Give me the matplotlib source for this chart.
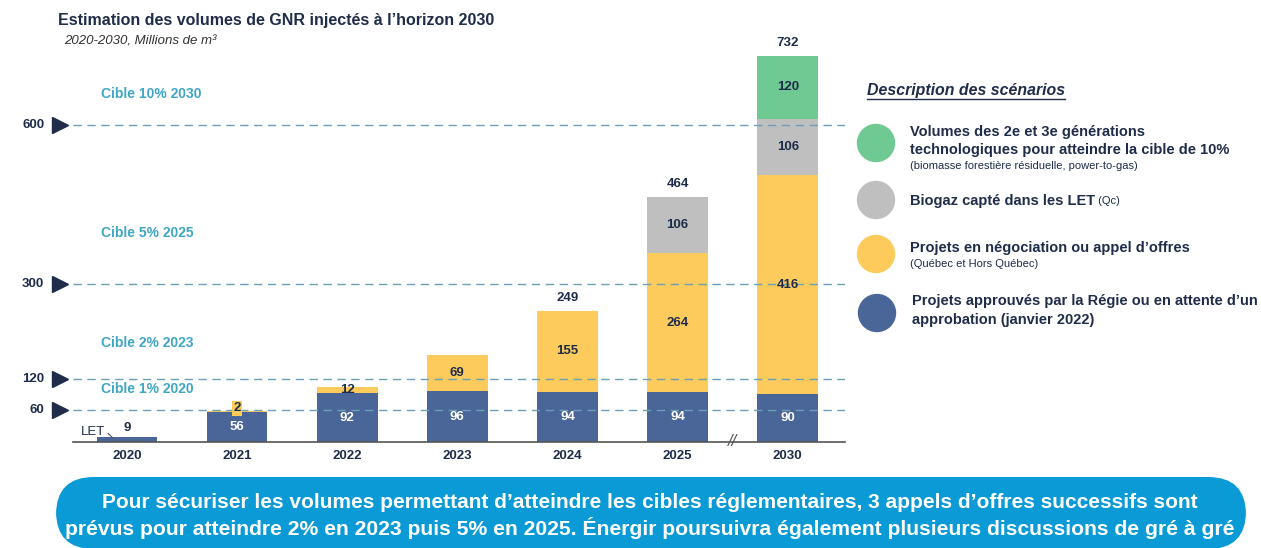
import matplotlib.pyplot as plt
import matplotlib
from matplotlib.patches import FancyBboxPatch, Ellipse
import numpy as np

matplotlib.rcParams['font.family'] = ['Liberation Sans', 'DejaVu Sans']

# données (millions de m³)
years = ['2020', '2021', '2022', '2023', '2024', '2025', '2030']
approuves = [9, 56, 92, 96, 94, 94, 90]
negociation = [0, 2, 12, 69, 155, 264, 416]
biogaz_let = [0, 0, 0, 0, 0, 106, 106]
generations = [0, 0, 0, 0, 0, 0, 120]
show_total = [False, False, False, False, True, True, True]

cibles = [600, 300, 120, 60]
cible_labels = [('Cible 10% 2030', 660), ('Cible 5% 2025', 395),
                ('Cible 2% 2023', 188), ('Cible 1% 2020', 100)]

NAVY = '#1f2d4a'
BLUE = '#4a6699'
YELLOW = '#fccb5c'
GREY = '#bfbfbf'
GREEN = '#6fc993'
TEAL = '#3fa6c6'
DASH = '#6a9fb5'

W, H = 1261, 548
fig = plt.figure(figsize=(W / 100, H / 100), dpi=100)


def px(x, y):
    return x / W, 1 - y / H


ax = fig.add_axes([73 / W, (548 - 442) / H, (845 - 73) / W, 780 * 0.528 / H])
x = np.arange(len(years))
ax.set_xlim(-0.49, 6.52)
ax.set_ylim(0, 780)

a = np.array(approuves)
n = np.array(negociation)
b = np.array(biogaz_let)
g = np.array(generations)

ax.bar(x, a, width=0.55, color=BLUE, zorder=2)
ax.bar(x, n, width=0.55, bottom=a, color=YELLOW, zorder=2)
ax.bar(x, b, width=0.55, bottom=a + n, color=GREY, zorder=2)
ax.bar(x, g, width=0.55, bottom=a + n + b, color=GREEN, zorder=2)

# lignes de cibles
for c in cibles:
    ax.axhline(c, color=DASH, lw=1, ls=(0, (6, 4)), zorder=3)
    ax.plot(-0.61, c, marker='>', color=NAVY, markersize=11, clip_on=False)
    ax.text(-0.75, c, str(c), ha='right', va='center', fontsize=9.5,
            color=NAVY, fontweight='bold')
for txt, yv in cible_labels:
    ax.text(-0.24, yv, txt, ha='left', va='center', fontsize=10,
            color=TEAL, fontweight='bold')

# étiquettes de valeurs
fs_val = 9.5
for i in range(len(years)):
    if a[i] >= 30:
        ax.text(x[i], a[i] / 2, str(a[i]), ha='center', va='center',
                fontsize=fs_val, color='white', fontweight='bold', zorder=4)
    else:
        ax.text(x[i], a[i] + 18, str(a[i]), ha='center', va='center',
                fontsize=fs_val, color=NAVY, fontweight='bold', zorder=4)
    if n[i] > 0:
        if n[i] < 10:
            ax.text(x[i], a[i] + n[i] + 6, str(n[i]), ha='center', va='center',
                    fontsize=fs_val, color=NAVY, fontweight='bold', zorder=4,
                    bbox=dict(boxstyle='square,pad=0.1', fc=YELLOW, ec='none'))
        else:
            ax.text(x[i], a[i] + n[i] / 2, str(n[i]), ha='center', va='center',
                    fontsize=fs_val, color=NAVY, fontweight='bold', zorder=4)
    if b[i] > 0:
        ax.text(x[i], a[i] + n[i] + b[i] / 2, str(b[i]), ha='center', va='center',
                fontsize=fs_val, color=NAVY, fontweight='bold', zorder=4)
    if g[i] > 0:
        ax.text(x[i], a[i] + n[i] + b[i] + g[i] / 2, str(g[i]), ha='center',
                va='center', fontsize=fs_val, color=NAVY, fontweight='bold', zorder=4)
    if show_total[i]:
        tot = a[i] + n[i] + b[i] + g[i]
        ax.annotate(str(tot), (x[i], tot), xytext=(0, 5), textcoords='offset points',
                    ha='center', va='bottom', fontsize=fs_val, color=NAVY,
                    fontweight='bold')

for s in ['top', 'right', 'left']:
    ax.spines[s].set_visible(False)
ax.spines['bottom'].set_color('#555555')
ax.spines['bottom'].set_linewidth(1.2)
ax.set_yticks([])
ax.set_xticks(x)
ax.set_xticklabels(years, fontsize=9.5, fontweight='bold', color=NAVY)
ax.tick_params(axis='x', length=0, pad=6)

# LET + coupure d'axe
ax.text(-0.42, 18, 'LET', ha='left', va='center', fontsize=9.5, color=NAVY)
ax.plot([-0.17, -0.13], [16, 8], color='#555555', lw=0.8, clip_on=False)
ax.text(5.5, 0, '//', ha='center', va='center', fontsize=12, color='#555555',
        style='italic', clip_on=False)

# titres
fig.text(*px(58, 20), 'Estimation des volumes de GNR injectés à l\u2019horizon 2030',
         fontsize=11.5, fontweight='bold', color=NAVY, va='center')
fig.text(*px(64, 41), '2020-2030, Millions de m\u00b3', fontsize=9.5,
         style='italic', color='#333333', va='center')

# légende
fig.text(*px(867, 90), 'Description des scénarios', fontsize=11.4,
         fontweight='bold', style='italic', color=NAVY, va='center')
fig.add_artist(plt.Line2D([867 / W, 1065 / W], [1 - 99 / H, 1 - 99 / H],
                          color=NAVY, lw=1))
for (cx, cy), col in zip([(876, 143), (876, 200), (876, 254), (877, 313)],
                         [GREEN, GREY, YELLOW, BLUE]):
    fig.add_artist(Ellipse(px(cx, cy), 37 / W, 37 / H, color=col,
                           transform=fig.transFigure))
leg = [(910, 132, 'Volumes des 2e et 3e générations', 10.5, 'bold'),
       (910, 150, 'technologiques pour atteindre la cible de 10%', 10.5, 'bold'),
       (910, 166, '(biomasse forestière résiduelle, power-to-gas)', 8, 'normal'),
       (910, 248, 'Projets en négociation ou appel d\u2019offres', 10.5, 'bold'),
       (910, 264, '(Québec et Hors Québec)', 8, 'normal'),
       (912, 301, 'Projets approuvés par la Régie ou en attente d\u2019un', 10.5, 'bold'),
       (912, 320, 'approbation (janvier 2022)', 10.5, 'bold')]
for lx, ly, t, fs, fw in leg:
    fig.text(*px(lx, ly), t, fontsize=fs, fontweight=fw, color=NAVY, va='center')
t1 = fig.text(*px(910, 201), 'Biogaz capté dans les LET', fontsize=10.5,
              fontweight='bold', color=NAVY, va='center')
ax.annotate(' (Qc)', xy=(1, 0.12), xycoords=t1, fontsize=8, color=NAVY,
            va='bottom', ha='left', annotation_clip=False)

# bandeau
band = FancyBboxPatch(px(56, 549), (1246 - 56) / W, 72 / H,
                      boxstyle='round,pad=0,rounding_size=0.03',
                      transform=fig.transFigure, fc='#0a9ad6', ec='none',
                      mutation_aspect=W / H)
fig.add_artist(band)
fig.text(*px(650, 502), 'Pour sécuriser les volumes permettant d\u2019atteindre les cibles '
         'réglementaires, 3 appels d\u2019offres successifs sont', fontsize=15,
         fontweight='bold', color='white', ha='center', va='center')
fig.text(*px(650, 528), 'prévus pour atteindre 2% en 2023 puis 5% en 2025. Énergir '
         'poursuivra également plusieurs discussions de gré à gré', fontsize=15.2,
         fontweight='bold', color='white', ha='center', va='center')

fig.savefig('out.png', dpi=100)
